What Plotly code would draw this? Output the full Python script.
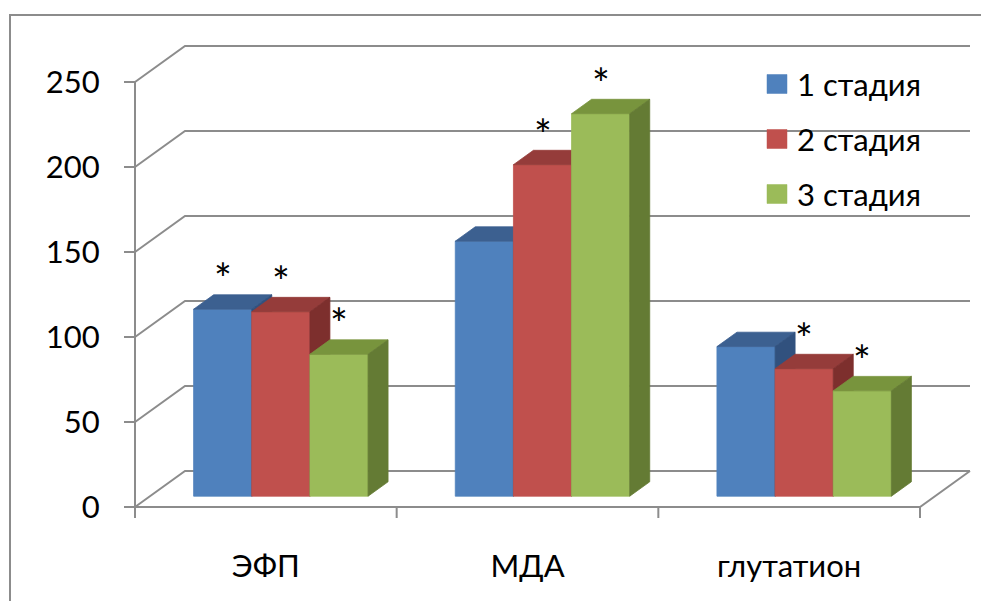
import plotly.graph_objects as go

# ---- data -------------------------------------------------------------
categories = ["ЭФП", "МДА", "глутатион"]
series_names = ["1 стадия", "2 стадия", "3 стадия"]
stage1 = [110, 150, 88]
stage2 = [108.5, 195, 75]
stage3 = [83.5, 225, 62]
# significance marks (*) per series and category
stage1_sig = [True, False, False]
stage2_sig = [True, True, True]
stage3_sig = [True, True, True]
y_ticks = [0, 50, 100, 150, 200, 250]

series_values = [stage1, stage2, stage3]
series_sig = [stage1_sig, stage2_sig, stage3_sig]

# ---- styles -----------------------------------------------------------
front_colors = ["#4F81BD", "#C0504D", "#9BBB59"]
top_colors = ["#3C6090", "#953C3A", "#78943D"]
side_colors = ["#31517E", "#7D2F2D", "#647B34"]
grid_color = "#8C8C8C"
FONT = "Lato"
W, H = 981, 601

# ---- projection: pixel frame of the 3D plot ---------------------------
AX_X, AX_Y = 135.0, 507.0          # front-left-bottom corner (pixels)
PX_PER_CAT = 785.0 / 3.0           # pixels per category along x
PX_PER_VAL = 1.7                   # pixels per value unit along y
DEPTH_PX_X, DEPTH_PX_Y = 50.0, 36.0  # floor depth offset in pixels


def ux(px):
    return (px - AX_X) / PX_PER_CAT


def vy(py):
    return (AX_Y - py) / PX_PER_VAL


DU = DEPTH_PX_X / PX_PER_CAT       # depth offset in x data units
DV = DEPTH_PX_Y / PX_PER_VAL       # depth offset in y data units
U0, U1 = ux(0), ux(W)
V0, V1 = vy(H), vy(0)

n_cat = len(categories)
n_ser = len(series_values)
gap = 1.5                           # gap width relative to one bar
bar_w = 1.0 / (n_ser + gap)
d_front, d_back = 0.3, 0.7          # bar depth span as share of floor depth

fig = go.Figure()

# ---- walls and floor --------------------------------------------------
gx, gy = [], []
for t in y_ticks:
    # side wall diagonal + back wall line
    gx += [0, DU, n_cat + DU, None]
    gy += [t, t + DV, t + DV, None]
# floor front edge and right edge
gx += [0, n_cat, n_cat + DU, None]
gy += [0, 0, DV, None]
# value axis line, extended below the floor by a tick length
tick_v = 11 / PX_PER_VAL
gx += [0, 0, None]
gy += [-tick_v, y_ticks[-1], None]
# category boundary ticks
for i in range(n_cat + 1):
    gx += [i, i, None]
    gy += [0, -tick_v, None]
fig.add_trace(go.Scatter(x=gx, y=gy, mode="lines",
                         line=dict(color=grid_color, width=2),
                         hoverinfo="skip", showlegend=False))

# ---- 3D bars (painter's order: left bar to right bar) ----------------
fu, fv = d_front * DU, d_front * DV
bu, bv = (d_back - d_front) * DU, (d_back - d_front) * DV

annotations = []
for s in range(n_ser):
    fx, fy, tx, ty, sx, sy = [], [], [], [], [], []
    for i in range(n_cat):
        val = series_values[s][i]
        xl = i + bar_w * (gap / 2 + s) + fu
        xr = xl + bar_w
        base = fv
        top = val + fv
        fx += [xl, xr, xr, xl, xl, None]
        fy += [base, base, top, top, base, None]
        tx += [xl, xr, xr + bu, xl + bu, xl, None]
        ty += [top, top, top + bv, top + bv, top, None]
        sx += [xr, xr + bu, xr + bu, xr, xr, None]
        sy += [base, base + bv, top + bv, top, base, None]
        if series_sig[s][i]:
            annotations.append(dict(
                x=(xl + xr) / 2, y=top, xref="x", yref="y",
                text="*", showarrow=False, yanchor="middle",
                yshift=31, font=dict(family=FONT, size=42, color="#000000")))
    for xs, ys, col in ((fx, fy, front_colors[s]),
                        (tx, ty, top_colors[s]),
                        (sx, sy, side_colors[s])):
        fig.add_trace(go.Scatter(x=xs, y=ys, mode="lines", fill="toself",
                                 fillcolor=col,
                                 line=dict(color=col, width=0.8),
                                 hoverinfo="skip", showlegend=False))

# ---- legend -----------------------------------------------------------
shapes = []
leg_x, leg_y0, leg_step = 767.0, 84.0, 55.0
for s in range(n_ser):
    cy = leg_y0 + s * leg_step
    shapes.append(dict(type="rect", xref="x", yref="y",
                       x0=ux(leg_x), x1=ux(leg_x + 20),
                       y0=vy(cy + 9.5), y1=vy(cy - 9.5),
                       fillcolor=front_colors[s],
                       line=dict(color=front_colors[s], width=0.5)))
    annotations.append(dict(x=ux(leg_x + 28), y=vy(cy), xref="x", yref="y",
                            text=series_names[s], showarrow=False,
                            xanchor="left", yanchor="middle",
                            font=dict(family=FONT, size=31, color="#000000")))

# chart frame
shapes.append(dict(type="rect", xref="paper", yref="paper",
                   x0=10 / W, x1=1.05, y0=-0.05, y1=1 - 15 / H,
                   line=dict(color=grid_color, width=2), layer="below"))

fig.update_layout(
    width=W, height=H,
    margin=dict(l=0, r=0, t=0, b=0),
    paper_bgcolor="white", plot_bgcolor="rgba(0,0,0,0)",
    showlegend=False,
    shapes=shapes, annotations=annotations,
    font=dict(family=FONT, size=31, color="#000000"),
    xaxis=dict(domain=[0, 1], range=[U0, U1], anchor="free",
               position=(0 - V0) / (V1 - V0),
               tickvals=[i + 0.5 for i in range(n_cat)], ticktext=categories,
               ticks="", showgrid=False, zeroline=False, showline=False,
               ticklabelstandoff=38,
               tickfont=dict(family=FONT, size=31, color="#000000")),
    yaxis=dict(domain=[0, 1], range=[V0, V1], anchor="free",
               position=(0 - U0) / (U1 - U0),
               tickvals=y_ticks, ticks="outside", ticklen=11, tickwidth=2,
               tickcolor=grid_color, showgrid=False, zeroline=False,
               showline=False, ticklabelstandoff=18,
               tickfont=dict(family=FONT, size=31, color="#000000")),
)

fig.write_html("out.html")
